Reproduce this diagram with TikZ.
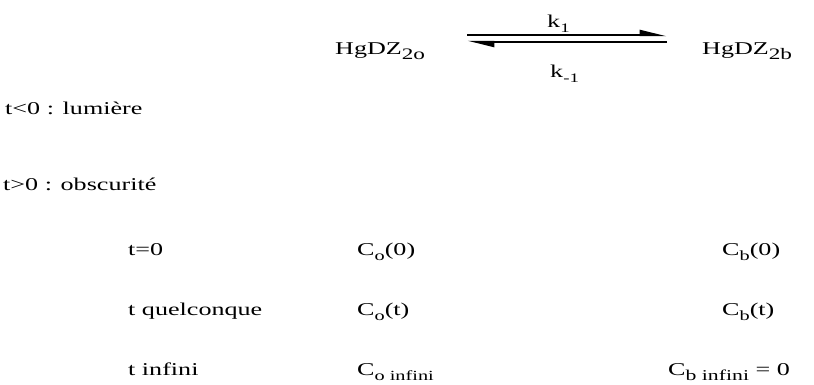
\documentclass[tikz,border=0pt]{standalone}
\usepackage{fontspec}
\setmainfont{Liberation Serif}[FakeStretch=1.45]
\usepackage{tikz}
\usetikzlibrary{arrows.meta,positioning}
\newcommand{\sbs}[2][14]{\raisebox{-5pt}{\fontsize{#1}{#1}\selectfont #2}}
\tikzset{
    lbl/.style={anchor=base west,inner sep=0pt,font=\fontsize{18}{20}\selectfont},
    halfarrow/.style={draw,line width=2.4pt,-{Triangle[left,length=22pt,width=10pt]}},
}
\begin{document}
\begin{tikzpicture}[x=1pt,y=-1pt]
    \useasboundingbox (0,0) rectangle (814,385);
    % equilibre
    \node[lbl] (orange) at (335,55) {HgDZ\sbs[16]{2o}};
    \node[lbl] (blue) at (702,55) {HgDZ\sbs[16]{2b}};
    \node[lbl] (k1) at (547,28) {k\sbs[13]{1}};
    \node[lbl] (km1) at (550,78) {k\sbs[13]{-1}};
    \coordinate (fwdL) at (467,35);
    \coordinate (fwdR) at (667,35);
    \coordinate (bwdL) at (467,42);
    \coordinate (bwdR) at (667,42);
    \draw[halfarrow] (fwdL) -- (fwdR);
    \draw[halfarrow] (bwdR) -- (bwdL);
    % conditions
    \node[lbl] (light) at (5,115) {t<0 : lumière};
    \node[lbl] (dark) at (3,190) {t>0 : obscurité};
    % tableau
    \node[lbl] (tzero) at (128,255) {t=0};
    \node[lbl] (tany) at (128,315) {t quelconque};
    \node[lbl] (tinf) at (128,375) {t infini};
    \node[lbl] (cozero) at (357,255) {C\sbs{o}(0)};
    \node[lbl] (coany) at (357,315) {C\sbs{o}(t)};
    \node[lbl] (coinf) at (357,375) {C\sbs{o infini}};
    \node[lbl] (cbzero) at (722,255) {C\sbs{b}(0)};
    \node[lbl] (cbany) at (722,315) {C\sbs{b}(t)};
    \node[lbl] (cbinf) at (668,375) {C\sbs[15]{b infini} = 0};
\end{tikzpicture}
\end{document}
